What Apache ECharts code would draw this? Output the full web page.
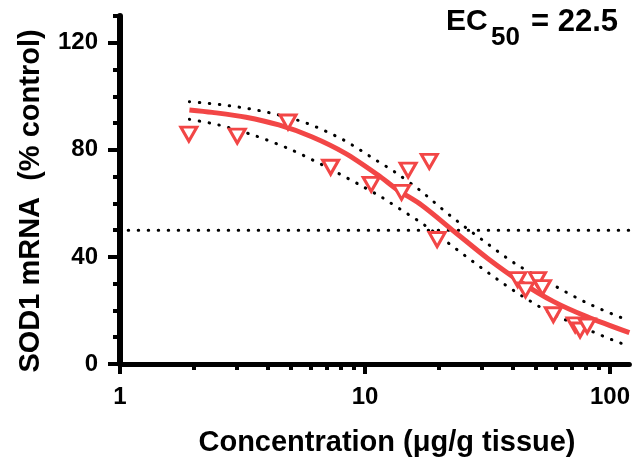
<!DOCTYPE html>
<html>
<head>
<meta charset="utf-8">
<script src="https://cdn.jsdelivr.net/npm/echarts@6/dist/echarts.min.js"></script>
<style>
    html, body { margin: 0; padding: 0; background: #fff; }
    #chart { width: 633px; height: 465px; }
</style>
</head>
<body>
<div id="chart"></div>
<script>
// measured points (concentration, % control)
var pointX = [1.91, 3.01, 4.85, 7.24, 10.6, 14.1, 15.0, 18.3, 19.7, 42.0, 45.2, 50.6, 53.0, 58.7, 72.1, 75.5, 80.7];
var pointY = [85.9, 85.1, 90.4, 73.5, 67.1, 64.1, 72.4, 75.7, 46.5, 31.5, 27.7, 31.5, 28.5, 18.4, 14.6, 12.7, 14.2];

// fitted curve
var fitX = [1.92, 2.38, 3.27, 4.45, 6.06, 8.32, 11.3, 13.6, 17.0, 23.2, 31.6, 43.1, 58.9, 80.4, 120];
var fitY = [94.9, 94.0, 92.2, 89.3, 84.9, 78.7, 70.6, 65.0, 59.4, 49.4, 39.5, 30.7, 23.3, 17.7, 11.7];

// confidence band (dotted)
var upperX = [1.92, 2.79, 4.06, 5.80, 8.17, 11.2, 13.2, 16.7, 22.3, 30.2, 41.2, 57.1, 79.8, 111.4, 120];
var upperY = [98.0, 96.5, 93.9, 89.9, 83.7, 75.9, 71.8, 65.0, 55.4, 46.3, 37.4, 30.1, 23.0, 17.3, 16.6];
var lowerX = [1.92, 2.53, 3.58, 5.04, 6.99, 9.84, 11.7, 12.6, 17.5, 21.8, 29.7, 40.5, 56.2, 79.1, 111.4, 120];
var lowerY = [91.4, 89.3, 85.2, 79.9, 73.5, 66.2, 62.3, 60.4, 51.9, 45.3, 36.1, 27.4, 19.5, 13.3, 7.7, 7.2];

// half-maximum reference line
var halfX = [1.08, 120];
var halfY = [50, 50];

var xMajor = [1, 10, 100];
var xMinor = [2, 3, 4, 5, 6, 7, 8, 9, 20, 30, 40, 50, 60, 70, 80, 90];
var yMajor = [0, 40, 80, 120];
var yMinor = [10, 20, 30, 50, 60, 70, 90, 100, 110, 130];

function pairs(xs, ys) {
    var out = [];
    for (var i = 0; i < xs.length; i++) out.push([xs[i], ys[i]]);
    return out;
}

var red = '#F24646';
var font = 'Liberation Sans, Arial, sans-serif';
var dotted = { color: '#000', width: 3, type: [0.5, 9.5], cap: 'round' };

var myChart = echarts.init(document.getElementById('chart'));

var option = {
    animation: false,
    grid: { left: 120, right: 0, top: 16, bottom: 101 },
    xAxis: [{
        type: 'log', logBase: 10, min: 1, max: 120,
        axisLine: { lineStyle: { color: '#000', width: 5 } },
        axisTick: { customValues: xMajor, length: 10, lineStyle: { color: '#000', width: 4 } },
        axisLabel: { customValues: xMajor, margin: 21, color: '#000', fontSize: 24, fontWeight: 'bold', fontFamily: font },
        splitLine: { show: false }
    }, {
        type: 'log', logBase: 10, min: 1, max: 120, position: 'bottom',
        axisLine: { show: false },
        axisTick: { customValues: xMinor, length: 6, lineStyle: { color: '#000', width: 4 } },
        axisLabel: { show: false },
        splitLine: { show: false }
    }],
    yAxis: [{
        type: 'value', min: 0, max: 130, interval: 10,
        axisLine: { show: true, lineStyle: { color: '#000', width: 6 } },
        axisTick: { show: true, customValues: yMajor, length: 12, lineStyle: { color: '#000', width: 4 } },
        axisLabel: { customValues: yMajor, margin: 22, color: '#000', fontSize: 24, fontWeight: 'bold', fontFamily: font },
        splitLine: { show: false }
    }, {
        type: 'value', min: 0, max: 130, interval: 10, position: 'left',
        axisLine: { show: false },
        axisTick: { show: true, customValues: yMinor, length: 7, lineStyle: { color: '#000', width: 4 } },
        axisLabel: { show: false },
        splitLine: { show: false }
    }],
    graphic: [
        { type: 'text', x: 31, y: 201, rotation: Math.PI / 2,
          style: { text: 'SOD1 mRNA  (% control)', font: 'bold 29px ' + font, fill: '#000', textAlign: 'center', textVerticalAlign: 'middle' } },
        { type: 'text', x: 387, y: 443,
          style: { text: 'Concentration (μg/g tissue)', font: 'bold 29px ' + font, fill: '#000', textAlign: 'center', textVerticalAlign: 'middle' } },
        { type: 'text', x: 446, y: 22,
          style: { text: 'EC', font: 'bold 30px ' + font, fill: '#000', textAlign: 'left', textVerticalAlign: 'middle' } },
        { type: 'text', x: 491, y: 38,
          style: { text: '50', font: 'bold 26px ' + font, fill: '#000', textAlign: 'left', textVerticalAlign: 'middle' } },
        { type: 'text', x: 531, y: 22,
          style: { text: '= 22.5', font: 'bold 31px ' + font, fill: '#000', textAlign: 'left', textVerticalAlign: 'middle' } }
    ],
    series: [{
        type: 'line', data: pairs(halfX, halfY), showSymbol: false, lineStyle: dotted, z: 1
    }, {
        type: 'line', data: pairs(upperX, upperY), smooth: 0.3, showSymbol: false, lineStyle: dotted, z: 2
    }, {
        type: 'line', data: pairs(lowerX, lowerY), smooth: 0.3, showSymbol: false, lineStyle: dotted, z: 2
    }, {
        type: 'line', data: pairs(fitX, fitY), smooth: 0.3, showSymbol: false,
        lineStyle: { color: red, width: 5 }, z: 3
    }, {
        type: 'scatter', data: pairs(pointX, pointY),
        symbol: 'triangle', symbolRotate: 180, symbolSize: [16, 14],
        itemStyle: { color: '#fff', borderColor: red, borderWidth: 3, opacity: 1 }, z: 4
    }]
};

myChart.setOption(option);
</script>
</body>
</html>
